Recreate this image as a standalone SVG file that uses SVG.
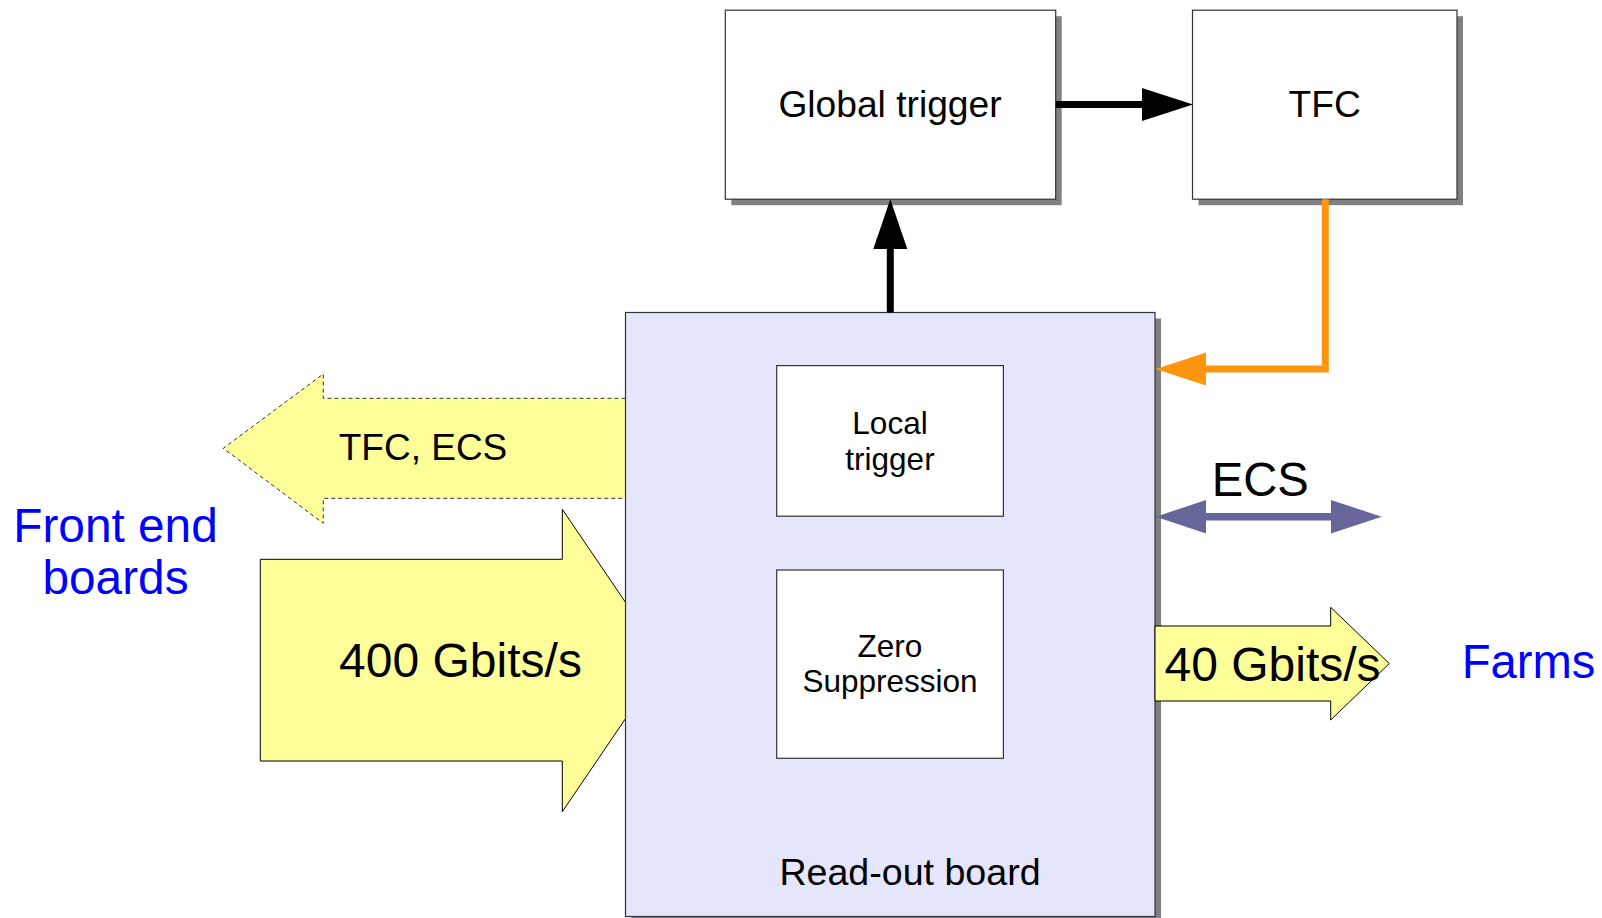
<svg xmlns="http://www.w3.org/2000/svg" width="1602" height="918" viewBox="0 0 1602 918">
<style>
text{font-family:"Liberation Sans",Arial,sans-serif;fill:#000}
.box{fill:#fff;stroke:#333;stroke-width:1.2}
.shadow{fill:#808080}
.yarrow{fill:#ffff99;stroke:#000;stroke-width:1}
.blue{fill:#0000ff}
</style>
<rect width="1602" height="918" fill="#fff"/>
<g id="tfc-ecs-arrow">
<polygon points="625.5,398.3 323.3,398.3 323.3,374 223.3,448.3 323.3,523.3 323.3,498.3 625.5,498.3" fill="#ffff99" stroke="#333" stroke-width="1" stroke-dasharray="4 3"/>
<text x="423" y="460" font-size="37" text-anchor="middle">TFC, ECS</text>
</g>
<g id="in-arrow">
<polygon class="yarrow" points="260.3,559.3 562.3,559.3 562.3,509.3 665,660.5 562.3,811.7 562.3,761 260.3,761"/>
</g>
<g id="front-end-boards">
<text class="blue" x="115.5" y="541.7" font-size="47.8" text-anchor="middle">Front end</text>
<text class="blue" x="115.5" y="594" font-size="47.8" text-anchor="middle">boards</text>
</g>
<g id="global-trigger">
<rect class="shadow" x="731.3" y="16.2" width="330.4" height="189"/>
<rect class="box" x="725.3" y="10.2" width="330.4" height="189"/>
<text x="890" y="117" font-size="37.2" text-anchor="middle">Global trigger</text>
</g>
<g id="tfc">
<rect class="shadow" x="1198.5" y="16.2" width="264.5" height="189"/>
<rect class="box" x="1192.5" y="10.2" width="264.5" height="189"/>
<text x="1324.7" y="117" font-size="37.2" text-anchor="middle">TFC</text>
</g>
<g id="readout-board">
<rect class="shadow" x="631.5" y="318.5" width="529.5" height="604"/>
<rect x="625.5" y="312.5" width="529.5" height="604" fill="#e5e5fb" stroke="#333" stroke-width="1.2"/>
<text x="910" y="884.5" font-size="37.6" text-anchor="middle">Read-out board</text>
</g>
<g id="local-trigger">
<rect class="box" x="776.7" y="365.6" width="226.7" height="150.6"/>
<text x="890" y="434" font-size="31.5" text-anchor="middle">Local</text>
<text x="890" y="469.5" font-size="31.5" text-anchor="middle">trigger</text>
</g>
<g id="zero-suppression">
<rect class="box" x="776.7" y="570" width="226.7" height="188.3"/>
<text x="890" y="656.7" font-size="31.5" text-anchor="middle">Zero</text>
<text x="890" y="692" font-size="31.5" text-anchor="middle">Suppression</text>
</g>
<g id="in-label">
<text x="460.5" y="676.5" font-size="48" text-anchor="middle">400 Gbits/s</text>
</g>
<g id="out-arrow">
<polygon class="yarrow" points="1155,626 1330.7,626 1330.7,607.3 1389.3,663.5 1330.7,720 1330.7,701 1155,701"/>
<text x="1272.5" y="680.5" font-size="48" text-anchor="middle">40 Gbits/s</text>
</g>
<g id="farms">
<text class="blue" x="1528.5" y="677.5" font-size="47.2" text-anchor="middle">Farms</text>
</g>
<g id="connectors">
<line x1="1055.7" y1="104.5" x2="1145" y2="104.5" stroke="#000" stroke-width="7"/>
<polygon points="1142,88 1193,104.5 1142,121" fill="#000"/>
<line x1="890.3" y1="312.5" x2="890.3" y2="246" stroke="#000" stroke-width="7"/>
<polygon points="873.3,249 890.3,199.2 907.3,249" fill="#000"/>
<polyline points="1325.3,199.2 1325.3,369 1203,369" fill="none" stroke="#ff950e" stroke-width="7"/>
<polygon points="1206,352.5 1155.7,369 1206,385.5" fill="#ff950e"/>
<line x1="1203" y1="516.7" x2="1334" y2="516.7" stroke="#666699" stroke-width="7.5"/>
<polygon points="1206,500 1155.7,516.7 1206,533.4" fill="#666699"/>
<polygon points="1331,500 1381.7,516.7 1331,533.4" fill="#666699"/>
<text x="1260.3" y="496.3" font-size="47.2" text-anchor="middle">ECS</text>
</g>
</svg>
